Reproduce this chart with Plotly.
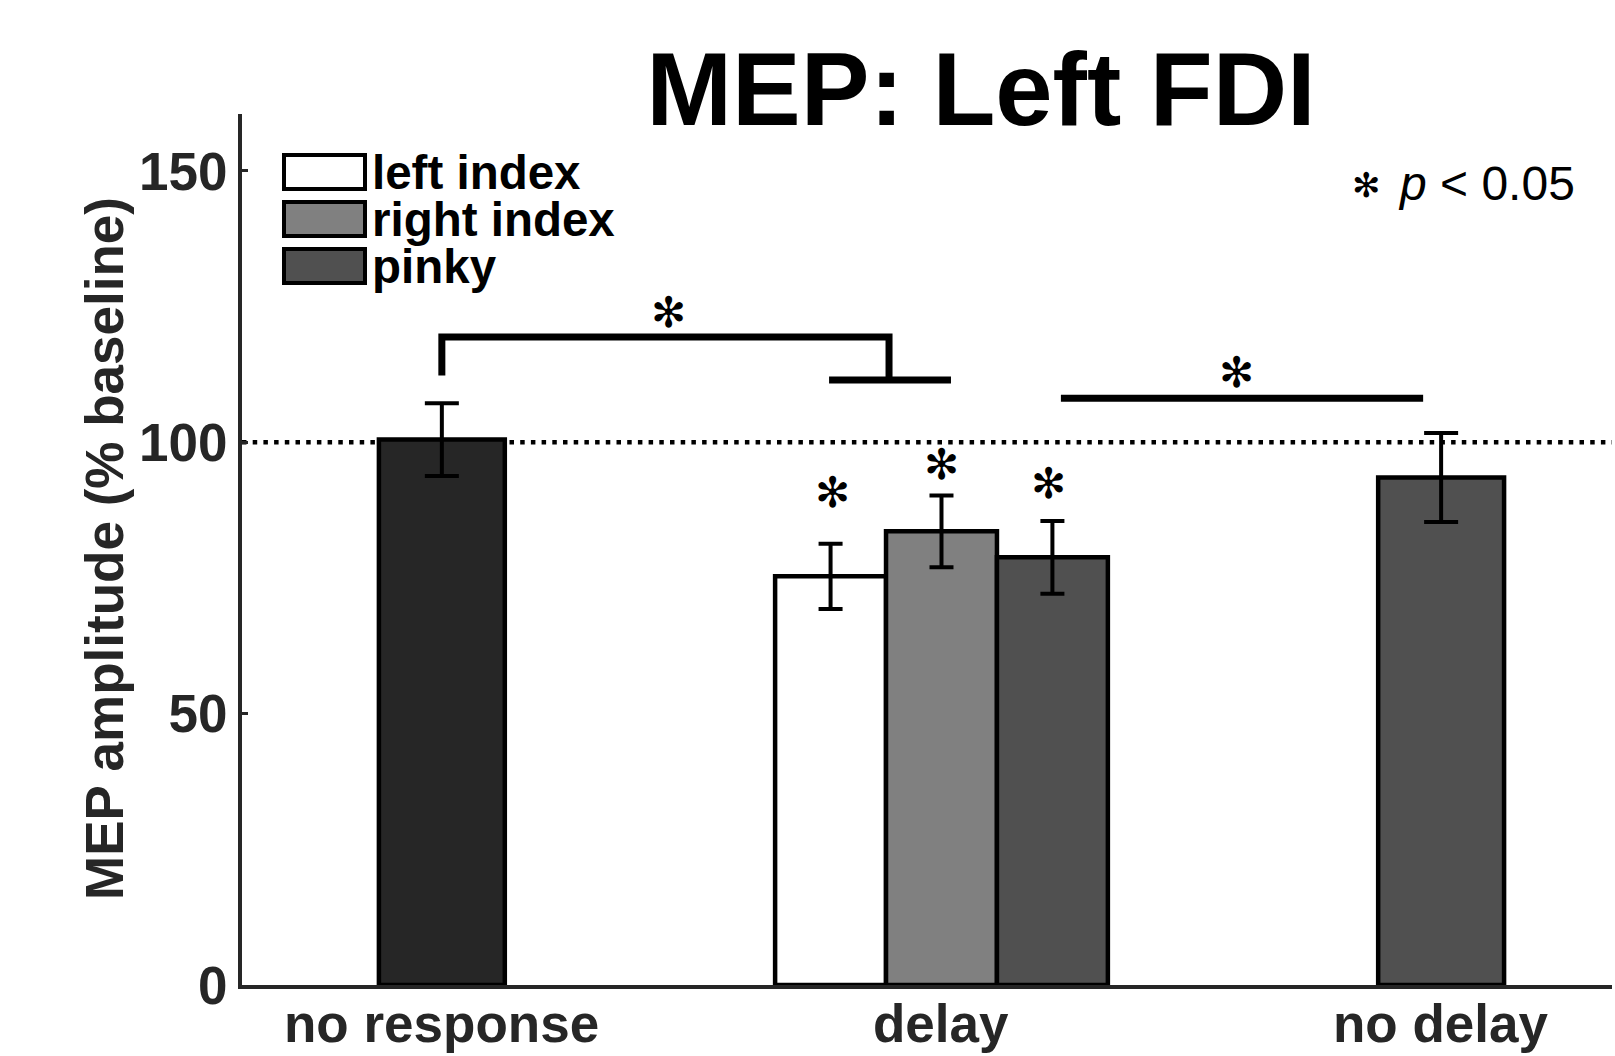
import plotly.graph_objects as go

# ---------------- data ----------------
categories = ["no response", "delay", "no delay"]
series_names = ["left index", "right index", "pinky"]
series_colors = ["#ffffff", "#808080", "#505050"]
delay_means = [75.3, 83.6, 78.8]
delay_errors = [6.0, 6.6, 6.7]
no_response_mean = [100.5]
no_response_error = [6.7]
no_delay_mean = [93.5]
no_delay_error = [8.2]
y_ticks = [0, 50, 100, 150]
baseline_value = 100

# ---------------- style ----------------
FONT = "Liberation Sans"
AXC = "#262626"
EDGE = dict(color="black", width=4.5)
single_w = 0.252
group_w = 0.222

fig = go.Figure()

fig.add_bar(
    x=[categories[0]], y=no_response_mean, width=single_w,
    marker=dict(color="#262626", line=EDGE),
    error_y=dict(type="data", array=no_response_error, color="black", thickness=4, width=17),
    showlegend=False,
)
for i, name in enumerate(series_names):
    center = (i - 1) * group_w
    fig.add_bar(
        x=[categories[1]], y=[delay_means[i]], width=group_w, offset=center - group_w / 2,
        marker=dict(color=series_colors[i], line=EDGE), name=name,
        error_y=dict(type="data", array=[delay_errors[i]], color="black", thickness=4, width=12),
        showlegend=False,
    )
fig.add_bar(
    x=[categories[2]], y=no_delay_mean, width=single_w,
    marker=dict(color=series_colors[2], line=EDGE),
    error_y=dict(type="data", array=no_delay_error, color="black", thickness=4, width=17),
    showlegend=False,
)

shapes = []
annotations = []

# baseline dotted line
shapes.append(dict(type="line", xref="paper", x0=0, x1=1, yref="y", y0=baseline_value, y1=baseline_value,
                   line=dict(color="black", width=4.5, dash="4.5px,6.2px"), layer="below"))

# significance brackets
BR = dict(color="black", width=7)
shapes.append(dict(type="path", xref="x", yref="y",
                   path="M 0,112.3 L 0,119.4 L 0.895,119.4 L 0.895,111.5", line=BR))
shapes.append(dict(type="line", xref="x", yref="y", x0=0.775, x1=1.019, y0=111.5, y1=111.5, line=BR))
shapes.append(dict(type="line", xref="x", yref="y", x0=1.239, x1=1.964, y0=108.1, y1=108.1, line=BR))

STAR = "\u273B"
star_font = dict(family="DejaVu Sans", size=42, color="black")
for sx, sy in [(0.454, 123.9), (1.59, 112.9), (0.782, 90.8), (1.0, 95.9), (1.215, 92.5)]:
    annotations.append(dict(x=sx, y=sy, xref="x", yref="y", text=STAR, showarrow=False,
                            font=star_font, xanchor="center", yanchor="middle"))

# p < 0.05 note
annotations.append(dict(x=(1366 - 242) / 1370, y=(985 - 185) / 871, xref="paper", yref="paper",
                        text=STAR, showarrow=False, xanchor="center", yanchor="middle",
                        font=dict(family="DejaVu Sans", size=34, color="black")))
annotations.append(dict(x=(1577 - 242) / 1370, y=(985 - 183) / 871, xref="paper", yref="paper",
                        text="<i>p</i> < 0.05", showarrow=False, xanchor="right", yanchor="middle",
                        font=dict(family=FONT, size=48, color="black")))

# custom legend
box_tops = [153, 200, 247]
for i, name in enumerate(series_names):
    top = box_tops[i]
    bot = top + 38
    shapes.append(dict(type="rect", xref="paper", yref="paper",
                       x0=(284 - 242) / 1370, x1=(365 - 242) / 1370,
                       y0=(985 - bot + 2) / 871, y1=(985 - top - 2) / 871,
                       fillcolor=series_colors[i], line=dict(color="black", width=4)))
    annotations.append(dict(x=(370 - 242) / 1370, y=(985 - (top + bot) / 2) / 871, xref="paper", yref="paper",
                            text=name, showarrow=False, xanchor="left", yanchor="middle",
                            font=dict(family=FONT, size=47.5, color="black", weight="bold")))

# x category labels
for c in categories:
    annotations.append(dict(x=c, y=(985 - 1023) / 871, xref="x", yref="paper", text=c, showarrow=False,
                            xanchor="center", yanchor="middle",
                            font=dict(family=FONT, size=53, color=AXC, weight="bold")))

# y axis title
annotations.append(dict(x=(104 - 242) / 1370, y=(985 - 549) / 871, xref="paper", yref="paper",
                        text="MEP amplitude (% baseline)", textangle=-90, showarrow=False,
                        xanchor="center", yanchor="middle",
                        font=dict(family=FONT, size=53, color=AXC, weight="bold")))

fig.update_layout(
    width=1615, height=1056,
    margin=dict(l=242, r=3, t=114, b=71, autoexpand=False),
    paper_bgcolor="white", plot_bgcolor="white",
    barmode="overlay",
    showlegend=False,
    title=dict(text="MEP: Left FDI", x=981 / 1615, xanchor="center", xref="container",
               y=1 - 89 / 1056, yanchor="middle", yref="container",
               font=dict(family=FONT, size=103, color="black", weight="bold")),
    xaxis=dict(type="category", categoryorder="array", categoryarray=categories,
               range=[-0.4, 2.342], showline=True, linecolor=AXC, linewidth=4,
               ticks="", showgrid=False, zeroline=False, showticklabels=False, automargin=False),
    yaxis=dict(range=[0, 160.5], tickvals=y_ticks, showline=True, linecolor=AXC, linewidth=4,
               ticks="inside", ticklen=6, tickwidth=3, tickcolor=AXC, automargin=False,
               showgrid=False, zeroline=False,
               tickfont=dict(family=FONT, size=53, color=AXC, weight="bold")),
    shapes=shapes, annotations=annotations,
)

fig.write_html("out.html")
